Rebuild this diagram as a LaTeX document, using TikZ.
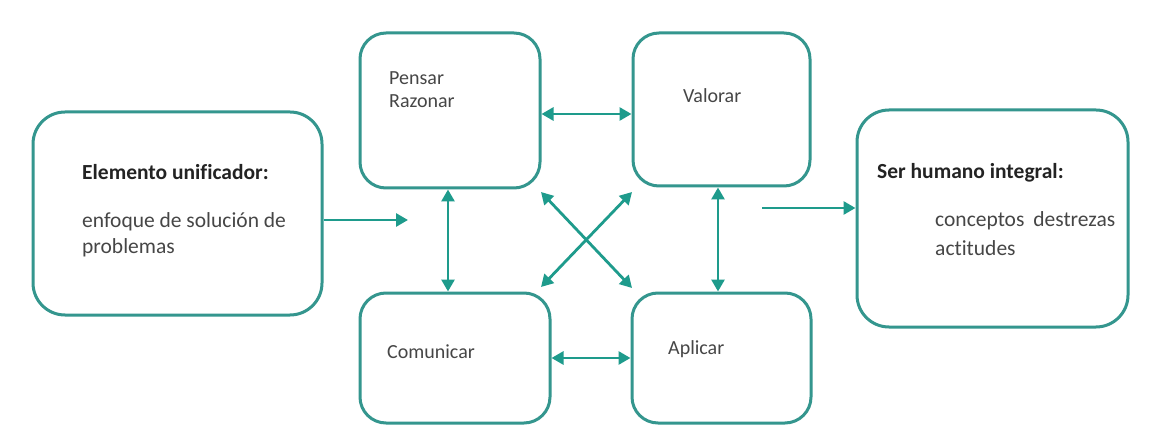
\documentclass[tikz,border=0pt]{standalone}
\usepackage{fontspec}
\setmainfont{Carlito}[Ligatures=NoCommon]
\usetikzlibrary{arrows.meta}
\definecolor{boxline}{RGB}{52,150,142}
\definecolor{arrline}{RGB}{30,155,140}
\definecolor{txt}{RGB}{70,70,70}
\definecolor{txtb}{RGB}{35,35,35}
\tikzset{
  card/.style={draw=boxline, line width=3pt, rounded corners=26pt, fill=white, inner sep=0pt},
  bigcard/.style={card, rounded corners=32pt},
  lbl/.style={inner sep=0pt, anchor=base west, text=txt, font=\fontsize{20}{24}\selectfont},
  biglbl/.style={lbl, font=\fontsize{21.5}{26}\selectfont},
  boldlbl/.style={biglbl, text=txtb, font=\fontsize{21.5}{26}\selectfont\bfseries},
  arr/.style={draw=arrline, line width=2.8pt, -{Triangle[length=12pt,width=13pt]}},
  darr/.style={arr, {Triangle[length=12pt,width=13pt]}-{Triangle[length=12pt,width=13pt]}}
}
\begin{document}
\begin{tikzpicture}[x=1pt,y=-1pt]
\useasboundingbox[fill=white] (0,0) rectangle (1153,438);
% boxes
\node[bigcard, minimum width=289pt, minimum height=203pt] (L) at (177.5,213.5) {};
\node[card, minimum width=180pt, minimum height=155pt] (P) at (450,110.5) {};
\node[card, minimum width=177pt, minimum height=153pt] (V) at (721.5,109.5) {};
\node[card, minimum width=190pt, minimum height=130pt] (C) at (455,358) {};
\node[card, minimum width=179pt, minimum height=130pt] (A) at (721.5,358) {};
\node[bigcard, minimum width=271pt, minimum height=217pt] (R) at (992.5,218.5) {};
% texts
\node[boldlbl] (t1) at (82,180) {Elemento unificador:};
\node[biglbl] (t2) at (82,228) {enfoque de solución de};
\node[biglbl] (t3) at (82,254) {problemas};
\node[lbl] (t4) at (389,85) {Pensar};
\node[lbl] (t5) at (389,108) {Razonar};
\node[lbl] (t6) at (683,103) {Valorar};
\node[lbl] (t7) at (387,358) {Comunicar};
\node[lbl] (t8) at (668,354) {Aplicar};
\node[boldlbl] (t9) at (877,179) {Ser humano integral:};
\node[biglbl] (t10) at (935,227) {conceptos\hspace{4pt} destrezas};
\node[biglbl] (t11) at (935,256) {actitudes};
% connector ends
\coordinate (la) at (408,220);
\coordinate (ra) at (762,208);
\coordinate (d1a) at (541,192);
\coordinate (d1b) at (632,288);
\coordinate (d2a) at (632,192);
\coordinate (d2b) at (541,287);
% connectors
\draw[arr] (L.east |- la) -- (la);
\draw[arr] (ra) -- (R.west |- ra);
\draw[darr] (P.east |- 0,114) -- (V.west |- 0,114);
\draw[darr] (C.east |- 0,358) -- (A.west |- 0,358);
\draw[darr] (P.south -| 448,0) -- (C.north -| 448,0);
\draw[darr] (V.south -| 718,0) -- (A.north -| 718,0);
\draw[darr] (d1a) -- (d1b);
\draw[darr] (d2a) -- (d2b);
\end{tikzpicture}
\end{document}
